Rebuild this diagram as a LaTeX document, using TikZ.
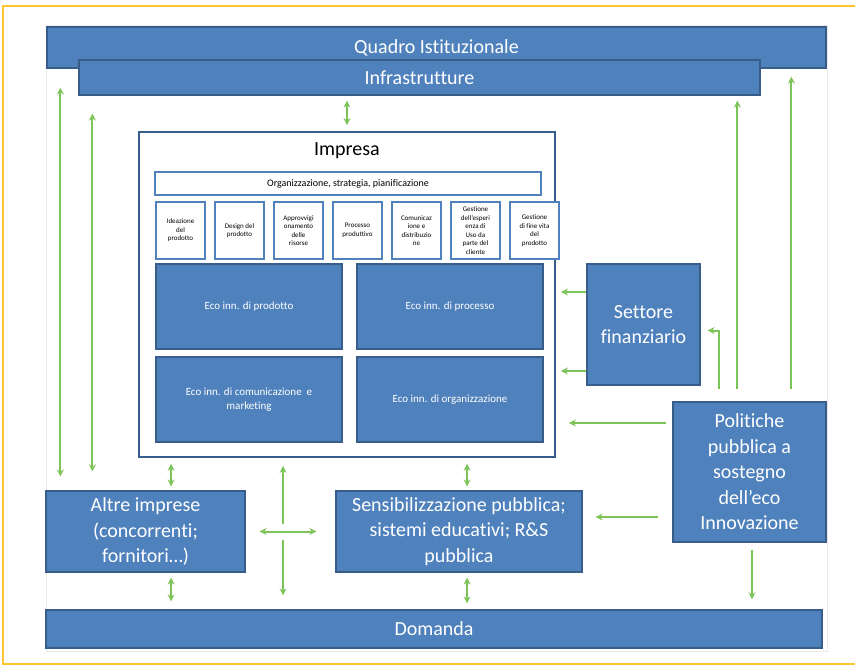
\documentclass[tikz,border=0pt]{standalone}
\usepackage{fontspec}
\setmainfont{Carlito}[Ligatures={NoCommon}]
\usepackage{xcolor}
\usetikzlibrary{arrows.meta, positioning}
\definecolor{boxblue}{RGB}{79,129,189}
\definecolor{boxedge}{RGB}{56,93,138}
\definecolor{arrgreen}{RGB}{124,196,88}
\definecolor{frameyellow}{RGB}{255,198,50}

\begin{document}
\begin{tikzpicture}[
    x=1pt, y=-1pt,
    band/.style={rectangle, draw=boxedge, line width=1.2pt, fill=boxblue, text=white, align=center, inner sep=0pt, font=\fontsize{20}{25.5}\selectfont},
    eco/.style={rectangle, draw=boxedge, line width=1.2pt, fill=boxblue, text=white, align=center, minimum width=186pt, minimum height=85pt, font=\fontsize{11}{14}\selectfont},
    phase/.style={rectangle, draw=boxblue, line width=2.8pt, fill=white, align=center, minimum width=49pt, minimum height=57pt, inner sep=0pt, font=\fontsize{7}{8.5}\selectfont},
    firm/.style={rectangle, draw=boxedge, line width=1.8pt, fill=white, minimum width=416pt, minimum height=325pt},
    arrow/.style={-{Stealth[length=7pt,width=7pt]}, color=arrgreen, line width=2pt},
    twoway/.style={{Stealth[length=7pt,width=7pt]}-{Stealth[length=7pt,width=7pt]}, color=arrgreen, line width=2pt}
]
\useasboundingbox (0,0) rectangle (855,667);

% Page frame
\draw[black!8, line width=0.6pt] (46,25) rectangle (827,651);
\draw[frameyellow, line width=1.6pt] (860,6) -- (3,6) -- (3,664) -- (860,664);

% Top bands
\node[band, minimum width=779pt, minimum height=41pt] (quadro) at (436.5,47.5) {Quadro Istituzionale};
\node[band, minimum width=681pt, minimum height=35pt] (infra) at (419.5,77.5) {Infrastrutture};

% Impresa
\node[firm] (imp) at (347,294.5) {};
\node[font=\fontsize{20}{24}\selectfont] (imptit) at ([yshift=-20pt]imp.north) {Impresa};
\node[phase, minimum width=386pt, minimum height=23pt, font=\fontsize{10}{12}\selectfont] (org) at (348,183.5) {Organizzazione, strategia, pianificazione};

\node[phase] (ph1) at (180.5,230.5) {Ideazione\\del\\prodotto};
\node[phase, right=7.2pt of ph1] (ph2) {Design del\\prodotto};
\node[phase, right=7.2pt of ph2] (ph3) {Approvvigi\\onamento\\delle\\risorse};
\node[phase, right=7.2pt of ph3] (ph4) {Processo\\produttivo};
\node[phase, right=7.2pt of ph4] (ph5) {Comunicaz\\ione e\\distribuzio\\ne};
\node[phase, right=7.2pt of ph5] (ph6) {Gestione\\dell’esperi\\enza di\\Uso da\\parte del\\cliente};
\node[phase, right=7.2pt of ph6] (ph7) {Gestione\\di fine vita\\del\\prodotto};

\node[eco] (eco1) at (249,306.5) {Eco inn. di prodotto};
\node[eco] (eco2) at (450,306.5) {Eco inn. di processo};
\node[eco] (eco3) at (249,399.5) {Eco inn. di comunicazione\ \ e\\marketing};
\node[eco] (eco4) at (450,399.5) {Eco inn. di organizzazione};

% Other actors
\node[band, minimum width=113pt, minimum height=121pt] (sett) at (643.5,324.5) {Settore\\finanziario};
\node[band, minimum width=153pt, minimum height=140pt] (pol) at (749.5,472) {Politiche\\pubblica a\\sostegno\\dell’eco\\Innovazione};
\node[band, minimum width=199pt, minimum height=81pt] (altre) at (145.5,531.5) {Altre imprese\\(concorrenti;\\fornitori…)};
\node[band, minimum width=246pt, minimum height=81pt] (sens) at (459,531.5) {Sensibilizzazione pubblica;\\sistemi educativi; R\&S\\pubblica};
\node[band, minimum width=776pt, minimum height=38pt] (dom) at (434,629) {Domanda};

% Left lanes to the top bands
\coordinate (lane1) at ([xshift=15pt]altre.north west);
\coordinate (lane2) at ([xshift=47pt]altre.north west);
\draw[twoway, shorten <=19pt, shorten >=14pt] (lane1 |- quadro.south) -- (lane1);
\draw[twoway, shorten <=18pt, shorten >=19pt] (lane2 |- infra.south) -- (lane2);
\draw[twoway, shorten <=5pt, shorten >=6pt] (imp.north |- infra.south) -- (imp.north);

% Links from the policies
\coordinate (rise1) at ([xshift=47pt]pol.north west);
\coordinate (rise2) at ([xshift=65pt]pol.north west);
\coordinate (rise3) at ([xshift=119pt]pol.north west);
\draw[arrow, shorten <=12pt, shorten >=7pt] (rise1) |- ([yshift=-6pt]sett.east);
\draw[arrow, shorten <=12pt, shorten >=5pt] (rise2) -- (rise2 |- infra.south);
\draw[arrow, shorten <=12pt, shorten >=8pt] (rise3) -- (rise3 |- quadro.south);

\coordinate (p1) at ([yshift=49pt]pol.west);
\coordinate (p2) at ([yshift=-45pt]pol.west);
\coordinate (p3) at ([xshift=2.5pt]pol.south);
\draw[arrow, shorten <=6pt, shorten >=13pt] (p1) -- (p1 -| imp.east);
\draw[arrow, shorten <=14pt, shorten >=13pt] (p2) -- (p2 -| sens.east);
\draw[arrow, shorten <=7pt, shorten >=10pt] (p3) -- (p3 |- dom.north);

% Finance to Impresa
\coordinate (s1) at ([yshift=32.5pt]sett.west);
\coordinate (s2) at ([yshift=-46.5pt]sett.west);
\draw[arrow, shorten >=5pt] (s1) -- (s1 -| imp.east);
\draw[arrow, shorten >=5pt] (s2) -- (s2 -| imp.east);

% Bottom links
\coordinate (d1) at ([xshift=33pt]imp.south west);
\coordinate (d2) at ([xshift=145pt]imp.south west);
\coordinate (d3) at ([xshift=329pt]imp.south west);
\draw[twoway, shorten <=6pt, shorten >=4pt] (d1) -- (d1 |- altre.north);
\draw[twoway, shorten <=5pt, shorten >=8pt] (d1 |- altre.south) -- (d1 |- dom.north);
\draw[twoway, shorten <=6pt, shorten >=4pt] (d3) -- (d3 |- sens.north);
\draw[twoway, shorten <=5pt, shorten >=6pt] (d3 |- sens.south) -- (d3 |- dom.north);
\draw[twoway, shorten <=8pt, shorten >=14pt] (d2) -- (d2 |- dom.north);
\draw[twoway, shorten <=14pt, shorten >=19pt,
    preaction={draw=white, line width=16pt, -, shorten <=14pt, shorten >=19pt}] (altre.east) -- (altre.east -| sens.west);

\end{tikzpicture}
\end{document}
